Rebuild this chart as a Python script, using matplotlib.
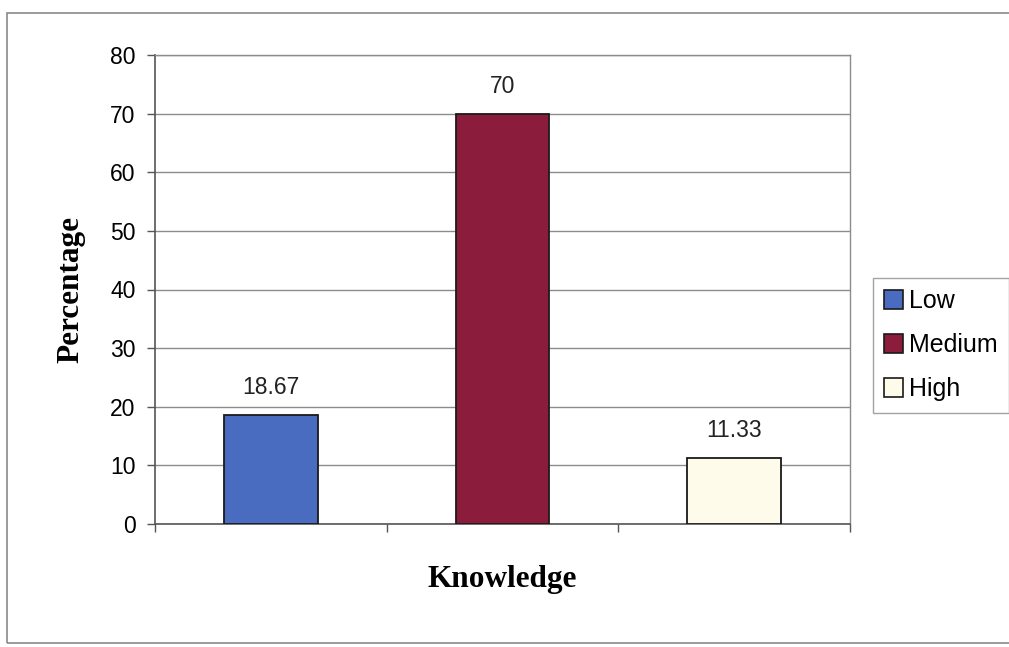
import matplotlib.pyplot as plt
from matplotlib.patches import Rectangle

levels = ['Low', 'Medium', 'High']
percent = [18.67, 70, 11.33]
value_labels = ['18.67', '70', '11.33']
colors = ['#4a6cc0', '#8c1c3c', '#fffbea']
yticks = [0, 10, 20, 30, 40, 50, 60, 70, 80]

fig = plt.figure(figsize=(10.09, 6.47), dpi=100)

# chart-area frame around everything
fig.patches.append(Rectangle((7 / 1009, 4 / 647), 1.1, 630 / 647,
                             transform=fig.transFigure, fill=False,
                             edgecolor='#8a8a8a', linewidth=1.2))

ax = fig.add_axes([155 / 1009, 1 - 524 / 647, 695 / 1009, 469 / 647])

x = list(range(len(levels)))
bars = ax.bar(x, percent, width=0.405, color=colors, edgecolor='#1a1a1a',
              linewidth=1.3, zorder=3, label=levels)

for xi, v, txt in zip(x, percent, value_labels):
    ax.text(xi, v + 2.7, txt, ha='center', va='bottom', fontsize=16.5,
            family='Liberation Sans', color='#222222')

ax.set_xlim(-0.5, 2.5)
ax.set_ylim(0, 80)
ax.set_yticks(yticks)
ax.set_yticklabels([str(t) for t in yticks], family='Liberation Sans', fontsize=16.5)
ax.set_xticks([-0.5, 0.5, 1.5, 2.5])
ax.set_xticklabels([])
ax.tick_params(axis='y', length=6, width=1, color='#555555', pad=8)
ax.tick_params(axis='x', length=6, width=1, color='#555555', direction='out')
ax.grid(axis='y', color='#8c8c8c', linewidth=1, zorder=0)

for side in ['left', 'bottom']:
    ax.spines[side].set_color('#555555')
    ax.spines[side].set_linewidth(1.2)
for side in ['top', 'right']:
    ax.spines[side].set_color('#8c8c8c')
    ax.spines[side].set_linewidth(1)

ax.set_ylabel('Percentage', family='Liberation Serif', fontweight='bold',
              fontsize=22.5, labelpad=18)
ax.set_xlabel('Knowledge', family='Liberation Serif', fontweight='bold',
              fontsize=22.5, labelpad=20)

handles = [Rectangle((0, 0), 1, 1, facecolor=c, edgecolor='#1a1a1a', linewidth=1.2)
           for c in colors]
leg = fig.legend(handles, levels, loc='upper left',
                 bbox_to_anchor=(873 / 1009, 1 - 278 / 647),
                 prop={'family': 'Liberation Sans', 'size': 18},
                 frameon=True, fancybox=False, edgecolor='#8c8c8c',
                 handlelength=0.75, handleheight=0.75, handletextpad=0.25,
                 labelspacing=0.8, borderpad=0.45, borderaxespad=0)
leg.get_frame().set_linewidth(1)

fig.savefig('out.png', dpi=100, facecolor='white')
